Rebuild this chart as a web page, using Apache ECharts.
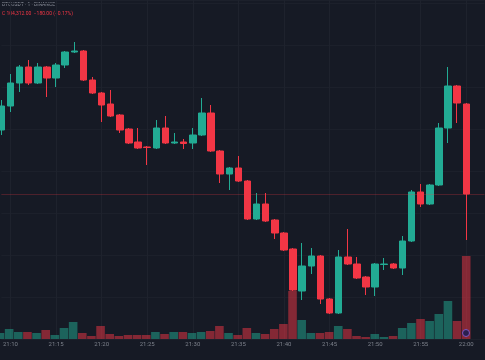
<!DOCTYPE html>
<html>
<head>
<meta charset="utf-8">
<script src="https://cdn.jsdelivr.net/npm/echarts@6/dist/echarts.min.js"></script>
<style>
html,body{margin:0;padding:0;background:#161a25;}
#c{width:485px;height:360px;}
</style>
</head>
<body>
<div id="c"></div>
<script>
// Time categories (1-minute candles); last two slots are empty space on the right
const categories = ["21:09","21:10","21:11","21:12","21:13","21:14","21:15","21:16","21:17","21:18","21:19",
"21:20","21:21","21:22","21:23","21:24","21:25","21:26","21:27","21:28","21:29",
"21:30","21:31","21:32","21:33","21:34","21:35","21:36","21:37","21:38","21:39",
"21:40","21:41","21:42","21:43","21:44","21:45","21:46","21:47","21:48","21:49",
"21:50","21:51","21:52","21:53","21:54","21:55","21:56","21:57","21:58","21:59",
"22:00","22:01","22:02"];
// [open, close, low, high]
const ohlc = [
[104440,104488,104430,104500],
[104488,104534,104476,104552],
[104534,104566,104516,104570],
[104566,104534,104530,104580],
[104534,104566,104532,104574],
[104566,104544,104506,104568],
[104544,104570,104526,104574],
[104570,104596,104564,104598],
[104596,104598,104594,104616],
[104598,104540,104538,104600],
[104540,104514,104512,104546],
[104514,104490,104456,104516],
[104492,104468,104466,104520],
[104470,104440,104434,104472],
[104442,104414,104412,104444],
[104416,104404,104402,104444],
[104406,104405,104370,104408],
[104404,104444,104402,104460],
[104444,104414,104412,104468],
[104414,104416,104412,104434],
[104416,104413,104402,104422],
[104414,104430,104402,104444],
[104430,104474,104428,104504],
[104474,104398,104396,104490],
[104398,104352,104334,104400],
[104352,104364,104320,104366],
[104364,104338,104336,104388],
[104338,104262,104260,104340],
[104262,104292,104260,104314],
[104292,104258,104256,104314],
[104260,104234,104222,104262],
[104234,104200,104198,104236],
[104202,104120,104118,104204],
[104118,104168,104100,104214],
[104168,104188,104152,104204],
[104188,104102,104092,104190],
[104102,104074,104072,104104],
[104074,104186,104072,104200],
[104186,104172,104170,104242],
[104172,104144,104142,104186],
[104146,104126,104110,104148],
[104126,104172,104108,104174],
[104171,104172,104160,104184],
[104172,104164,104162,104174],
[104164,104218,104150,104228],
[104218,104316,104216,104320],
[104316,104292,104286,104332],
[104292,104330,104290,104332],
[104330,104444,104328,104454],
[104444,104528,104414,104566],
[104528,104494,104454,104530],
[104492,104312,104220,104494]
];
const volumes = [6,10,7,7,6,9,4,11,17,6,3,13,5,3,4,4,4,7,5,7,7,6,7,8,13,6,4,11,6,5,10,15,48,19,6,6,7,13,10,3,2,5,2,3,11,16,20,18,25,38,18,83];
const legendLine1 = "BTCUSDT · 1 · BINANCE";
const legendLine2 = "C 104,312.00  −180.00 (−0.17%)";

const UP = '#22ab94', DOWN = '#f23645';
const volData = volumes.map((v, i) => ({
  value: v,
  itemStyle: { color: ohlc[i][1] >= ohlc[i][0] ? 'rgba(34,171,148,0.5)' : 'rgba(242,54,69,0.5)' }
}));
const lastClose = ohlc[ohlc.length - 1][1];
const isLabel = (idx) => { const c = categories[idx]; const mm = +c.split(':')[1]; return mm % 5 === 0; };

const chart = echarts.init(document.getElementById('c'), null, { renderer: 'canvas' });
const xBase = {
  type: 'category', data: categories, boundaryGap: false,
  axisLine: { show: false }, axisTick: { show: false },
  splitLine: { show: true, interval: (i) => isLabel(i), lineStyle: { color: '#1e222d', width: 1 } }
};
chart.setOption({
  backgroundColor: '#161a25',
  animation: false,
  grid: [
    { left: -2, right: 0.5, top: 0, bottom: 21 },
    { left: -2, right: 0.5, top: 239, bottom: 21 }
  ],
  xAxis: [
    Object.assign({}, xBase, { gridIndex: 0,
      axisLabel: { show: true, interval: (i) => isLabel(i), color: '#7c808b', fontSize: 6, margin: 2, fontFamily: 'Roboto' } }),
    Object.assign({}, xBase, { gridIndex: 1, axisLabel: { show: false }, splitLine: { show: false } })
  ],
  yAxis: [
    { gridIndex: 0, type: 'value', min: 104022, max: 104700, interval: 84, position: 'right',
      axisLabel: { show: false }, axisLine: { show: false }, axisTick: { show: false },
      splitLine: { show: true, lineStyle: { color: '#1c202b' } } },
    { gridIndex: 1, type: 'value', min: 0, max: 100,
      axisLabel: { show: false }, axisLine: { show: false }, axisTick: { show: false }, splitLine: { show: false } }
  ],
  series: [
    { type: 'bar', xAxisIndex: 1, yAxisIndex: 1, data: volData, barWidth: 8.6, z: 1 },
    { type: 'candlestick', xAxisIndex: 0, yAxisIndex: 0, data: ohlc, barWidth: 7, z: 2,
      itemStyle: { color: UP, color0: DOWN, borderColor: UP, borderColor0: DOWN, borderWidth: 1 },
      markLine: { silent: true, symbol: 'none', label: { show: false },
        lineStyle: { color: 'rgba(242,54,69,0.25)', width: 1, type: 'solid' },
        data: [{ yAxis: lastClose }] } }
  ],
  graphic: [
    { type: 'text', left: 2, top: 2, style: { text: legendLine1, fill: '#8a8e99', font: '5px Roboto' } },
    { type: 'text', left: 2, top: 11, style: { text: legendLine2, fill: '#f23645', font: '5px Roboto' } },
    { type: 'circle', shape: { cx: 466, cy: 333, r: 3.5 }, style: { fill: '#2b1f4f', stroke: '#7e57c2', lineWidth: 1 }, z: 10 }
  ]
});
</script>
</body>
</html>
